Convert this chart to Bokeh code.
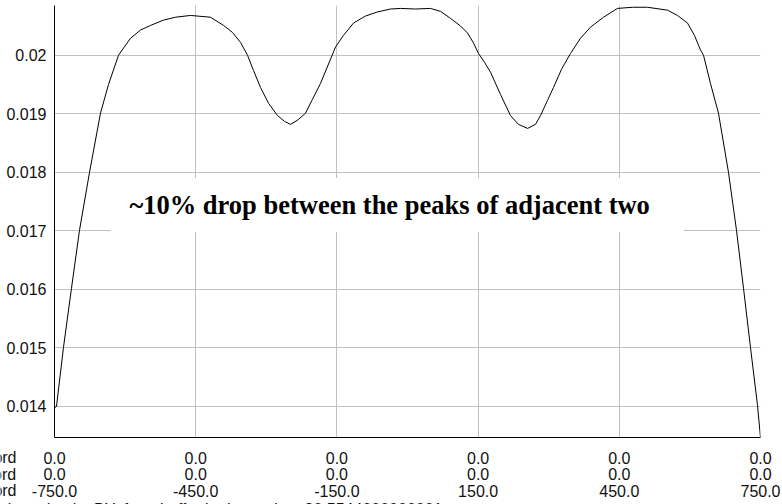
from bokeh.plotting import figure
from bokeh.models import FixedTicker, Label, Range1d
from bokeh.layouts import column
from bokeh.core.properties import value
from bokeh.embed import file_html
from bokeh.resources import INLINE

# data
xs = [-750, -745.8, -730.9, -713.9, -696.9, -675.6, -652.3, -635.3, -614.0, -588.5,
      -567.3, -546.0, -518.4, -492.9, -461.1, -418.6, -390.9, -371.8, -354.8, -339.9,
      -327.2, -312.3, -295.3, -276.2, -261.3, -248.6, -233.7, -216.7, -201.8, -184.8,
      -167.8, -152.9, -136.0, -114.7, -89.2, -63.8, -36.1, -14.9, 17.0, 48.9,
      70.1, 91.4, 112.6, 127.5, 140.2, 150.9, 163.6, 176.4, 197.6, 218.8,
      235.8, 255.0, 272.0, 282.6, 297.5, 310.2, 327.2, 346.3, 367.5, 388.8,
      416.4, 446.1, 478.0, 509.9, 552.4, 573.6, 594.9, 609.7, 622.5, 628.9,
      643.7, 660.7, 682.0, 699.0, 713.9, 728.7, 743.6, 750.0]
ys = [0.01398, 0.01400, 0.01501, 0.01602, 0.01701, 0.01800, 0.01901, 0.01950, 0.02000, 0.02029,
      0.02043, 0.02051, 0.02060, 0.02065, 0.02068, 0.02065, 0.02051, 0.02039, 0.02022, 0.02000,
      0.01974, 0.01945, 0.01918, 0.01897, 0.01887, 0.01882, 0.01889, 0.01901, 0.01925, 0.01952,
      0.01985, 0.02014, 0.02034, 0.02055, 0.02067, 0.02074, 0.02079, 0.02080, 0.02079, 0.02080,
      0.02075, 0.02063, 0.02050, 0.02038, 0.02021, 0.02003, 0.01988, 0.01971, 0.01933, 0.01897,
      0.01882, 0.01875, 0.01882, 0.01897, 0.01923, 0.01945, 0.01976, 0.02003, 0.02029, 0.02048,
      0.02065, 0.02080, 0.02082, 0.02082, 0.02077, 0.02068, 0.02055, 0.02034, 0.02009, 0.02000,
      0.01952, 0.01901, 0.01800, 0.01701, 0.01602, 0.01501, 0.01402, 0.01347]

x_ticks = [-750, -450, -150, 150, 450, 750]
x_rows = [
    ["0.0", "0.0", "0.0", "0.0", "0.0", "0.0"],
    ["0.0", "0.0", "0.0", "0.0", "0.0", "0.0"],
    ["-750.0", "-450.0", "-150.0", "150.0", "450.0", "750.0"],
]
row_names = ["X coord", "Y coord", "Z coord"]
footer = "Selected point BY: from buffer in data value: 30.5544000000001"
y_ticks = [0.014, 0.015, 0.016, 0.017, 0.018, 0.019, 0.020]
y_labels = ["0.014", "0.015", "0.016", "0.017", "0.018", "0.019", "0.02"]
note = "~10% drop between the peaks of adjacent two"

# layout (pixels)
W = 782
H1 = 444
H2 = 504 - H1
FL, FR, FT, FB = 54, 760, 5, 437
font = "Liberation Sans"
txt_color = "#111111"

p = figure(width=W, height=H1, output_backend="svg", toolbar_location=None, title=None,
           x_range=Range1d(-750, 750), y_range=Range1d(0.01347, 0.02085),
           min_border_left=FL, min_border_right=W - FR, min_border_top=FT, min_border_bottom=H1 - FB)
p.frame_align = False
p.outline_line_color = None
p.background_fill_color = "white"
p.border_fill_color = "white"

p.line(xs, ys, line_color="black", line_width=1)

p.xaxis.ticker = FixedTicker(ticks=x_ticks)
p.xaxis.major_label_overrides = {t: "" for t in x_ticks}
p.xaxis.major_label_text_font_size = "0px"
p.xaxis.major_label_standoff = 0
p.yaxis.ticker = FixedTicker(ticks=y_ticks)
p.yaxis.major_label_overrides = {t: l for t, l in zip(y_ticks, y_labels)}
p.yaxis.major_label_text_font = font
p.yaxis.major_label_text_font_size = "16px"
p.yaxis.major_label_text_color = txt_color
p.yaxis.major_label_standoff = 2
for ax in (p.xaxis, p.yaxis):
    ax.major_tick_line_color = None
    ax.minor_tick_line_color = None
    ax.axis_line_color = "black"
    ax.axis_line_width = 1
p.xgrid.grid_line_color = "#c0c0c0"
p.ygrid.grid_line_color = "#c0c0c0"

p.add_layout(Label(x=-22, y=0.01744, text=note, text_align="center", text_baseline="middle",
                   text_font="Liberation Serif", text_font_style="bold", text_font_size="26.5px",
                   text_color="black", background_fill_color="white",
                   padding=dict(left=19, right=34, top=12, bottom=12)))

# second strip: the three rows of x tick labels, sharing the x mapping of the plot
k = 1500 / (FR - FL)
x2 = Range1d(-750 - FL * k, 750 + (W - FR) * k)
p2 = figure(width=W, height=H2, output_backend="svg", toolbar_location=None, title=None,
            x_range=x2, y_range=Range1d(H2, 0),
            min_border_left=0, min_border_right=0, min_border_top=0, min_border_bottom=0,
            x_axis_location=None, y_axis_location=None)
p2.frame_align = False
p2.outline_line_color = None
p2.grid.visible = False
p2.background_fill_color = "white"
p2.border_fill_color = "white"

base = 457.3 - H1
for i, row in enumerate(x_rows):
    yy = base + 16.4 * i
    p2.text(x=x_ticks, y=[yy] * len(x_ticks), text=row, text_align="center",
            text_baseline="alphabetic", text_font=value(font), text_font_size="16px",
            text_color=txt_color)
    p2.text(x=[x2.start + 16 * k], y=[yy], text=[row_names[i]], text_align="right",
            text_baseline="alphabetic", text_font=value(font), text_font_size="16px",
            text_color=txt_color)
p2.text(x=[x2.start + 442 * k], y=[base + 16.4 * 3 + 2], text=[footer], text_align="right",
        text_baseline="alphabetic", text_font=value(font), text_font_size="16px",
        text_color=txt_color)

layout = column(p, p2, spacing=0)
open("out.html", "w").write(file_html(layout, INLINE))
